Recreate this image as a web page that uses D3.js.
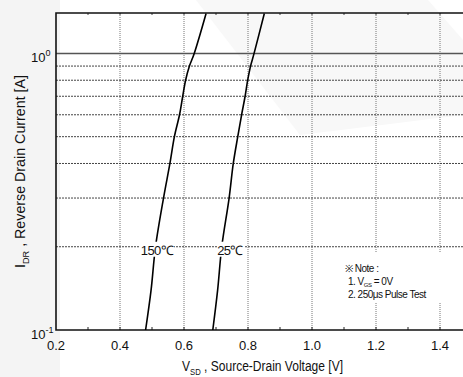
<!DOCTYPE html>
<html>
<head>
<meta charset="utf-8">
<script src="https://cdn.jsdelivr.net/npm/d3@7"></script>
<style>
  body { margin: 0; background: #fff; }
  svg { display: block; }
</style>
</head>
<body>
<div id="chart"></div>
<script>
// data
var curve150V = [0.480, 0.497, 0.511, 0.536, 0.556, 0.570, 0.586, 0.596, 0.605, 0.617, 0.632, 0.669];
var curve150I = [0.100, 0.139, 0.200, 0.300, 0.400, 0.500, 0.600, 0.700, 0.800, 0.900, 1.000, 1.394];
var curve25V  = [0.690, 0.705, 0.718, 0.741, 0.754, 0.768, 0.780, 0.791, 0.799, 0.808, 0.819, 0.851];
var curve25I  = [0.100, 0.139, 0.200, 0.300, 0.400, 0.500, 0.600, 0.700, 0.800, 0.900, 1.000, 1.394];
var xTicks = [0.2, 0.4, 0.6, 0.8, 1.0, 1.2, 1.4];
var xMinor = [0.3, 0.5, 0.7, 0.9, 1.1, 1.3];
var yGrid = [0.2, 0.3, 0.4, 0.5, 0.6, 0.7, 0.8, 0.9];
var curveLabels = ["150\u2103", "25\u2103"];
var noteLines = ["Note :", "1. V", "2. 250\u03bcs Pulse Test"];

var w = 463,
    h = 377,
    svg = d3.select("#chart").append("svg").attr("width", w).attr("height", h),
    x = d3.scaleLinear().domain([0.2, 1.5]).range([56, 472]),
    y = d3.scaleLog().domain([0.1, 1.4]).range([330, 13]);

var font = "Liberation Sans, Arial, sans-serif";

// background: gray strip on the left and faint watermark
svg.append("rect").attr("x", 0).attr("y", 0).attr("width", 60).attr("height", h).attr("fill", "#f4f4f4");
svg.append("polygon")
    .attr("points", "196,0 428,0 463,40 463,115 300,135")
    .attr("fill", "#f8f8f8");

var plot = svg.append("g");

// vertical dotted grid
plot.selectAll(".vgrid")
    .data(xTicks.slice(1))
    .enter().append("line")
    .attr("x1", function(d) { return x(d); })
    .attr("x2", function(d) { return x(d); })
    .attr("y1", y(1.4)).attr("y2", y(0.1))
    .attr("stroke", "#777").attr("stroke-width", 1)
    .attr("stroke-dasharray", "1,1");

// horizontal dotted grid
plot.selectAll(".hgrid")
    .data(yGrid)
    .enter().append("line")
    .attr("x1", x(0.2)).attr("x2", w)
    .attr("y1", function(d) { return y(d); })
    .attr("y2", function(d) { return y(d); })
    .attr("stroke", "#444").attr("stroke-width", 1)
    .attr("stroke-dasharray", "2,1");

// solid line at 10^0
plot.append("line")
    .attr("x1", x(0.2)).attr("x2", w)
    .attr("y1", y(1)).attr("y2", y(1))
    .attr("stroke", "#555").attr("stroke-width", 1.5);

// minor ticks, top and bottom, inward
xMinor.concat(xTicks.slice(1)).forEach(function(d) {
    plot.append("line")
        .attr("x1", x(d)).attr("x2", x(d))
        .attr("y1", y(0.1)).attr("y2", y(0.1) - 3)
        .attr("stroke", "#222");
    plot.append("line")
        .attr("x1", x(d)).attr("x2", x(d))
        .attr("y1", y(1.4)).attr("y2", y(1.4) + 2)
        .attr("stroke", "#444");
});

// frame
plot.append("path")
    .attr("d", "M" + w + "," + y(1.4) + "H" + x(0.2) + "V" + y(0.1) + "H" + w)
    .attr("fill", "none")
    .attr("stroke", "#111")
    .attr("stroke-width", 1.6);

// curves
var line = d3.line()
    .x(function(d) { return x(d[0]); })
    .y(function(d) { return y(d[1]); })
    .curve(d3.curveCatmullRom);

[[curve150V, curve150I], [curve25V, curve25I]].forEach(function(c) {
    plot.append("path")
        .datum(d3.zip(c[0], c[1]))
        .attr("fill", "none")
        .attr("stroke", "#000")
        .attr("stroke-width", 1.6)
        .attr("d", line);
});

// curve labels on white background
[[curveLabels[0], 157, 140, 34], [curveLabels[1], 230, 217, 27]].forEach(function(l) {
    svg.append("rect")
        .attr("x", l[2]).attr("y", y(0.2) - 5)
        .attr("width", l[3]).attr("height", 15)
        .attr("fill", "#fff");
    svg.append("text")
        .attr("x", l[1]).attr("y", y(0.2) + 8)
        .attr("text-anchor", "middle")
        .attr("font-family", font)
        .attr("font-size", "13px")
        .attr("letter-spacing", "-0.6")
        .attr("fill", "#111")
        .text(l[0]);
});

// x tick labels
svg.selectAll(".xlab")
    .data(xTicks)
    .enter().append("text")
    .attr("x", function(d) { return x(d); })
    .attr("y", 350)
    .attr("text-anchor", "middle")
    .attr("font-family", font)
    .attr("font-size", "13px")
    .attr("fill", "#111")
    .text(d3.format(".1f"));

// y tick labels 10^0 and 10^-1
[[1, "0"], [0.1, "-1"]].forEach(function(t) {
    var tx = svg.append("text")
        .attr("x", 31)
        .attr("y", y(t[0]) + 9)
        .attr("font-family", font)
        .attr("font-size", "13px")
        .attr("fill", "#111");
    tx.append("tspan").text("10");
    tx.append("tspan").attr("dy", -6).attr("font-size", "9px").text(t[1]);
});

// axis titles
var xt = svg.append("text")
    .attr("x", 182).attr("y", 371)
    .attr("font-family", font)
    .attr("font-size", "14px")
    .attr("fill", "#111")
    .attr("textLength", 161)
    .attr("lengthAdjust", "spacingAndGlyphs");
xt.append("tspan").text("V");
xt.append("tspan").attr("dy", 4).attr("font-size", "9px").text("SD");
xt.append("tspan").attr("dy", -4).text(" , Source-Drain Voltage  [V]");

var yt = svg.append("text")
    .attr("transform", "translate(25,268) rotate(-90)")
    .attr("font-family", font)
    .attr("font-size", "14px")
    .attr("fill", "#111")
    .attr("textLength", 193)
    .attr("lengthAdjust", "spacingAndGlyphs");
yt.append("tspan").text("I");
yt.append("tspan").attr("dy", 4).attr("font-size", "9px").text("DR");
yt.append("tspan").attr("dy", -4).text(" , Reverse Drain Current  [A]");

// note box
svg.append("rect")
    .attr("x", 337).attr("y", 253)
    .attr("width", 110).attr("height", 50)
    .attr("fill", "#fff");
var note = svg.append("g")
    .attr("font-family", font)
    .attr("font-size", "10px")
    .attr("fill", "#111")
    .attr("letter-spacing", "-0.5");
note.append("text").attr("x", 345).attr("y", 272).text("\u203b " + noteLines[0]);
var n1 = note.append("text").attr("x", 348).attr("y", 285);
n1.append("tspan").text(noteLines[1]);
n1.append("tspan").attr("dy", 2).attr("font-size", "6px").text("GS");
n1.append("tspan").attr("dy", -2).text(" = 0V");
note.append("text").attr("x", 348).attr("y", 298).text(noteLines[2]);
</script>
</body>
</html>
